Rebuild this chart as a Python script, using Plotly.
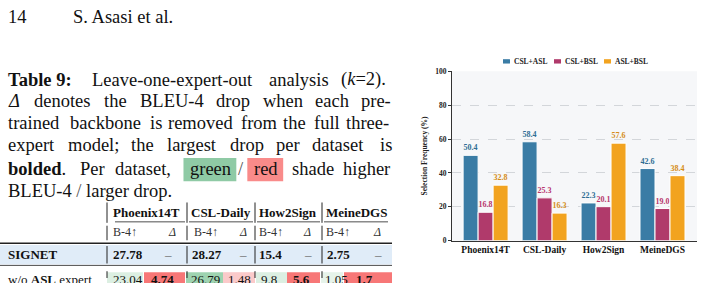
import plotly.graph_objects as go

# ---------------- data ----------------
datasets = ["Phoenix14T", "CSL-Daily", "How2Sign", "MeineDGS"]
series_names = ["CSL+ASL", "CSL+BSL", "ASL+BSL"]
csl_asl = [50.4, 58.4, 22.3, 42.6]
csl_bsl = [16.8, 25.3, 20.1, 19.0]
asl_bsl = [32.8, 16.3, 57.6, 38.4]
y_ticks = [0, 20, 40, 60, 80, 100]

table_datasets = ["Phoenix14T", "CSL-Daily", "How2Sign", "MeineDGS"]
signet_b4 = ["27.78", "28.27", "15.4", "2.75"]
wo_asl_b4 = ["23.04", "26.79", "9.8", "1.05"]
wo_asl_delta = ["4.74", "1.48", "5.6", "1.7"]

# ---------------- style ----------------
W, H = 703, 283
bar_colors = ["#3a7ca5", "#b03a6b", "#f2a31f"]
label_colors = ["#2f6d94", "#b8356c", "#d58c17"]
CF = "Liberation Serif"
PF = "Liberation Serif"
PS = 18.5          # rendered page font size
EM = 18.0          # layout em (TeX-like metrics) in px


def px(x):
    return x / W


def py(y):
    return 1 - y / H


fig = go.Figure()
for name, vals, c, lc in zip(series_names, [csl_asl, csl_bsl, asl_bsl], bar_colors, label_colors):
    fig.add_trace(go.Bar(
        x=datasets, y=vals, name=name,
        marker=dict(color=c, line=dict(color="white", width=1)),
        texttemplate="<b>%{y:.1f}</b>", textposition="outside",
        textfont=dict(family=CF, size=8, color=lc),
        cliponaxis=False, showlegend=False,
    ))

annotations = []
shapes = []


def txt(x, y, s, size=PS, anchor="left", color="#111", family=PF):
    annotations.append(dict(x=px(x), y=py(y), xref="paper", yref="paper", text=s,
                            showarrow=False, xanchor=anchor, yanchor="middle",
                            font=dict(family=family, size=size, color=color), borderpad=0))


def rect(x0, y0, x1, y1, color):
    shapes.append(dict(type="rect", xref="paper", yref="paper", x0=px(x0), x1=px(x1),
                       y0=py(y1), y1=py(y0), fillcolor=color, line=dict(width=0), layer="below"))


def hline(x0, x1, y, w=1, color="#222"):
    shapes.append(dict(type="line", xref="paper", yref="paper", x0=px(x0), x1=px(x1),
                       y0=py(y), y1=py(y), line=dict(color=color, width=w)))


def vline(x, y0, y1, w=1, color="#222"):
    shapes.append(dict(type="line", xref="paper", yref="paper", x0=px(x), x1=px(x),
                       y0=py(y0), y1=py(y1), line=dict(color=color, width=w)))


# ---- approximate TeX (cmr10 / cmbx10) advance widths, for justified caption layout ----
REG = dict(zip("abcdefghijklmnopqrstuvwxyz",
               [500, 556, 444, 556, 444, 306, 500, 556, 278, 306, 528, 278, 833, 556, 500, 556,
                528, 392, 394, 389, 556, 528, 722, 528, 528, 444]))
REG.update(dict(zip("ABCDEFGHIJKLMNOPQRSTUVWXYZ",
                    [750, 708, 722, 764, 681, 653, 785, 750, 361, 514, 778, 625, 917, 750, 778, 681,
                     778, 736, 556, 722, 750, 750, 1028, 750, 750, 611])))
REG.update({".": 278, ",": 278, ":": 278, ";": 278, "-": 333, "(": 389, ")": 389, "=": 778,
            "/": 500, "Δ": 833, "k": 521})
for d in "0123456789":
    REG[d] = 500
BOLD = dict(zip("abcdefghijklmnopqrstuvwxyz",
                [559, 639, 511, 639, 527, 351, 575, 639, 319, 351, 607, 319, 958, 639, 575, 639,
                 607, 474, 454, 447, 639, 607, 831, 607, 607, 511]))
BOLD.update({"T": 800, ":": 319, ".": 319, " ": 383})
for d in "0123456789":
    BOLD[d] = 575


def width(plain, bold=False):
    tab = BOLD if bold else REG
    return sum(tab.get(ch, 500) for ch in plain) / 1000 * EM


def layout_line(tokens, x0=7, x1=391):
    """tokens: list of (markup, width_px); distribute the remaining space evenly."""
    total = sum(w for _, w in tokens)
    gap = (x1 - x0 - total) / (len(tokens) - 1)
    pos, x = [], x0
    for m, w in tokens:
        pos.append((m, x))
        x += w + gap
    return pos


def R(s):
    return (s, width(s))


# page header
txt(7, 13, "14")
txt(72, 13, "S. Asasi et al.")

# caption
cap_lines = [
    (78, [("<b>Table 9:</b>", width("Table", True) + width(" 9:", True)),
          R("Leave-one-expert-out"), R("analysis"), ("(<i>k</i>=2).", width("(k=2)."))]),
    (100.5, [("<i>Δ</i>", width("Δ")), R("denotes"), R("the"), R("BLEU-4"), R("drop"),
             R("when"), R("each"), R("pre-")]),
    (123, [R("trained"), R("backbone"), R("is"), R("removed"), R("from"), R("the"),
           R("full"), R("three-")]),
    (146, [R("expert"), R("model;"), R("the"), R("largest"), R("drop"), R("per"),
           R("dataset"), R("is")]),
]
for y, toks in cap_lines:
    for m, x in layout_line(toks):
        txt(x, y, m)

# line with colour boxes
pad = 0.3 * EM
gw, rw, sw = width("green") + 2 * pad, width("red") + 2 * pad, width("/")
unit_w = gw + 1 + sw + 1 + rw
toks5 = [("<b>bolded</b>.", width("bolded", True) + width(".")), R("Per"), R("dataset,"),
         ("__UNIT__", unit_w), R("shade"), R("higher")]
for m, x in layout_line(toks5):
    if m == "__UNIT__":
        rect(x, 159, x + gw, 183, "#8fcaa5")
        txt(x + pad, 170, "green")
        txt(x + gw + 1, 170, "/", color="#555")
        rx = x + gw + 1 + sw + 1
        rect(rx, 159, rx + rw, 183, "#f98b8a")
        txt(rx + pad, 170, "red")
    else:
        txt(x, 170, m)

# last (ragged) caption line
txt(7, 193, "BLEU-4 <span style='color:#555'>/</span> larger drop.")

# table
TS = 13
for name, x in zip(table_datasets, [112, 190, 258, 325]):
    txt(x, 215, "<b>" + name + "</b>", size=TS)
for x in [107, 187, 255, 322]:
    vline(x, 205, 226)
    vline(x, 229, 244)
    vline(x, 250, 268)
    vline(x, 276, 283)
hline(115, 185, 225, 0.8)
hline(189, 253, 225, 0.8)
hline(257, 320, 225, 0.8)
hline(324, 388, 225, 0.8)
for xb, xd in [(112, 167), (193, 238), (258, 302), (325, 372)]:
    txt(xb, 236, "B-4↑", size=TS - 1, color="#333")
    txt(xd, 236, "<i>Δ</i>", size=TS - 1, color="#333")
hline(0, 392, 247, 1.5)
rect(0, 249, 392, 269, "#e0ecf8")
txt(7, 259, "<b>SIGNET</b>", size=TS)
for v, xb, xd in zip(signet_b4, [112, 191, 258, 326], [163, 238, 303, 373]):
    txt(xb, 259, "<b>" + v + "</b>", size=TS)
    txt(xd, 259, "–", size=TS, color="#666")
hline(0, 392, 270, 0.8)

# partial next row (cut by the page edge, as in the reference)
cell_bg = [(107, 143, "#dcefe2"), (144, 185, "#f77777"), (186, 223, "#9ed3b0"), (223, 255, "#fbcaca"),
           (256, 287, "#dcefe2"), (287, 320, "#f77777"), (321, 343, "#e6f3ea"), (344, 392, "#f77777")]
for x0, x1, c in cell_bg:
    rect(x0, 277, x1, 290, c)
txt(7, 285, "w/o <b>ASL</b> expert", size=TS)
for v, d, xb, xd in zip(wo_asl_b4, wo_asl_delta, [112, 190, 260, 324], [150, 227, 292, 355]):
    txt(xb, 285, v, size=TS)
    txt(xd, 285, "<b>" + d + "</b>" if d != "1.48" else d, size=TS)

# legend (manual, compact)
for (sx, tx), name, c in zip([(503, 513), (554, 564), (604, 614)], series_names, bar_colors):
    rect(sx, 57, sx + 7, 61.5, c)
    txt(tx, 59.5, "<b>" + name + "</b>", size=7.5, family=CF, color="#222")

fig.update_layout(
    width=W, height=H, margin=dict(l=0, r=0, t=0, b=0),
    paper_bgcolor="white", plot_bgcolor="#f6f7f9",
    barmode="group", bargap=0.237, bargroupgap=0,
    showlegend=False,
    annotations=annotations, shapes=shapes,
    xaxis=dict(domain=[px(452), px(697)], range=[-0.57, 3.585],
               showline=True, linecolor="#333", linewidth=1.2, ticks="",
               tickvals=datasets, ticktext=["<b>%s</b>" % d for d in datasets],
               tickfont=dict(family=CF, size=9.5, color="#111"), showgrid=False),
    yaxis=dict(domain=[py(244.5), py(69.5)], range=[0, 100], tickvals=y_ticks,
               ticktext=["<b>%d</b>" % t for t in y_ticks],
               showline=True, linecolor="#333", linewidth=1.2, ticks="outside", ticklen=3,
               tickcolor="#333", tickfont=dict(family=CF, size=7.5, color="#222"),
               showgrid=True, gridcolor="#d3d6da", griddash="dash", gridwidth=0.7,
               zeroline=False,
               title=dict(text="<b>Selection Frequency (%)</b>", standoff=6,
                          font=dict(family=CF, size=7.5, color="#222"))),
)

fig.write_html("out.html")
